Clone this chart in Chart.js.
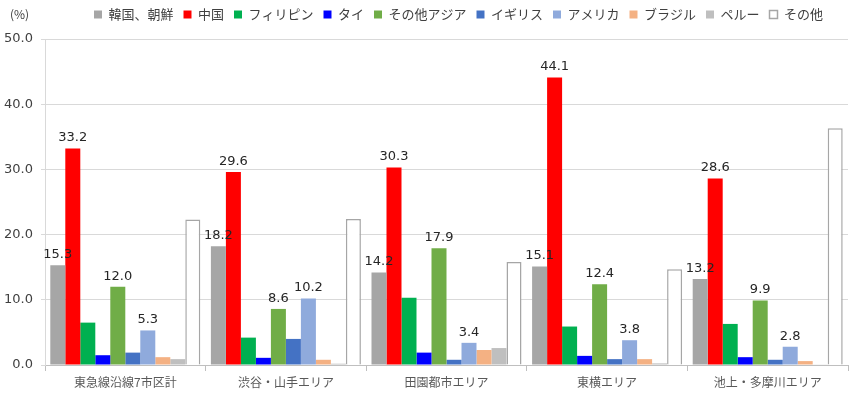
<!DOCTYPE html>
<html>
<head>
<meta charset="utf-8">
<script src="https://cdn.jsdelivr.net/npm/chart.js@4.4.1/dist/chart.umd.min.js"></script>
<style>
  body { margin: 0; background: #fff; }
  #wrap { width: 854px; height: 395px; }
</style>
</head>
<body>
<div id="wrap"><canvas id="chart"></canvas></div>
<script>
'use strict';

const areas = ['東急線沿線7市区計', '渋谷・山手エリア', '田園都市エリア', '東横エリア', '池上・多摩川エリア'];
const nations = ['韓国、朝鮮', '中国', 'フィリピン', 'タイ', 'その他アジア', 'イギリス', 'アメリカ', 'ブラジル', 'ペルー', 'その他'];

const korea = [15.3, 18.2, 14.2, 15.1, 13.2];
const china = [33.2, 29.6, 30.3, 44.1, 28.6];
const philippines = [6.5, 4.2, 10.3, 5.9, 6.3];
const thailand = [1.5, 1.1, 1.9, 1.4, 1.2];
const otherAsia = [12.0, 8.6, 17.9, 12.4, 9.9];
const uk = [1.9, 4.0, 0.8, 0.9, 0.8];
const usa = [5.3, 10.2, 3.4, 3.8, 2.8];
const brazil = [1.2, 0.8, 2.3, 0.9, 0.6];
const peru = [0.9, 0.2, 2.6, 0.25, 0.1];
const others = [22.3, 22.4, 15.8, 14.7, 36.3];

const yTicks = [0, 10, 20, 30, 40, 50];

const seriesValues = [korea, china, philippines, thailand, otherAsia, uk, usa, brazil, peru, others];
const fills = ['#a6a6a6', '#ff0000', '#00b050', '#0000ff', '#70ad47', '#4472c4', '#8faadc', '#f4b183', '#bfbfbf', '#ffffff'];
const labelled = [0, 1, 4, 6];

let datasets = [];
for (let i = 0; i < nations.length; i++) {
  datasets.push({
    label: nations[i],
    data: seriesValues[i],
    backgroundColor: fills[i],
    borderColor: i === 9 ? '#a6a6a6' : fills[i],
    borderWidth: i === 9 ? 1.5 : 0,
    categoryPercentage: 0.934,
    barPercentage: 1.0
  });
}

// value labels over a few series, plus the "(%)" unit
const extras = {
  id: 'extras',
  beforeLayout(chart) {
    const lg = chart.legend;
    if (lg && !lg._patched) {
      const fit = lg.fit;
      lg.fit = function () { fit.call(this); this.height += 6; };
      lg._patched = true;
    }
  },
  afterLayout(chart) {
    const lg = chart.legend;
    lg.left += 12; lg.right += 12;
    lg.top -= 2; lg.bottom -= 2;
  },
  afterDatasetsDraw(chart) {
    const ctx = chart.ctx;
    ctx.save();
    ctx.font = '13px "DejaVu Sans", sans-serif';
    ctx.fillStyle = '#262626';
    ctx.textAlign = 'center';
    ctx.textBaseline = 'bottom';
    labelled.forEach(function (d) {
      chart.getDatasetMeta(d).data.forEach(function (bar, j) {
        ctx.fillText(seriesValues[d][j].toFixed(1), bar.x, bar.y - 4);
      });
    });
    ctx.font = '12px "Noto Sans CJK JP", sans-serif';
    ctx.fillStyle = '#404040';
    ctx.textAlign = 'left';
    ctx.textBaseline = 'middle';
    ctx.fillText('(%)', 10, 14);
    ctx.restore();
  }
};

new Chart(document.getElementById('chart'), {
  type: 'bar',
  data: { labels: areas, datasets: datasets },
  options: {
    responsive: true,
    maintainAspectRatio: false,
    animation: false,
    layout: { padding: { left: 0, right: 6, top: 0, bottom: 0 } },
    plugins: {
      tooltip: { enabled: false },
      legend: {
        position: 'top',
        fullSize: false,
        labels: {
          boxWidth: 8,
          boxHeight: 8,
          padding: 10,
          color: '#404040',
          font: { family: '"Noto Sans CJK JP", sans-serif', size: 13 }
        }
      }
    },
    scales: {
      x: {
        grid: { display: true, drawOnChartArea: false, offset: true, tickLength: 6, color: '#bfbfbf' },
        border: { color: '#bfbfbf' },
        ticks: { color: '#595959', padding: 4, font: { family: '"Noto Sans CJK JP", sans-serif', size: 12 } },
        afterFit: function (s) { s.height = 30; }
      },
      y: {
        min: 0,
        max: 50,
        afterBuildTicks: function (s) { s.ticks = yTicks.map(v => ({ value: v })); },
        grid: { color: '#d9d9d9', tickLength: 4 },
        border: { color: '#d9d9d9' },
        ticks: {
          color: '#404040',
          padding: 8,
          font: { family: '"DejaVu Sans", sans-serif', size: 13 },
          callback: v => v.toFixed(1)
        },
        afterFit: function (s) { s.width = 45; }
      }
    }
  },
  plugins: [extras]
});
</script>
</body>
</html>
